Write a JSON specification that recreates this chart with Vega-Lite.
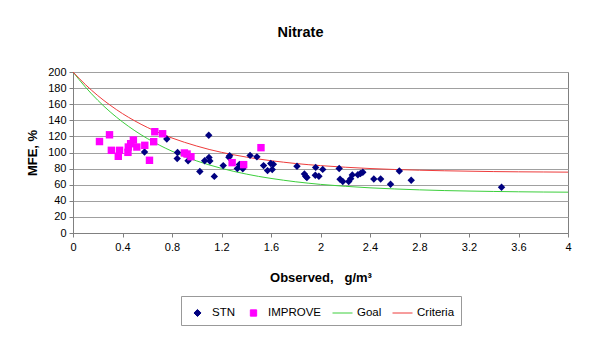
{
  "$schema": "https://vega.github.io/schema/vega-lite/v6.json",
  "width": 495,
  "height": 161,
  "autosize": {"type": "none"},
  "padding": {"left": 73, "top": 72, "right": 32, "bottom": 108},
  "background": "white",
  "title": {"text": "Nitrate", "font": "Liberation Sans", "fontSize": 14.5, "fontWeight": "bold", "color": "black", "anchor": "middle", "frame": "group", "offset": 26, "dx": -20},
  "config": {
    "view": {"stroke": "#808080", "strokeWidth": 1},
    "axis": {"labelFont": "Liberation Sans", "labelFontSize": 11, "labelColor": "black", "titleFont": "Liberation Sans", "titleFontSize": 13, "titleFontWeight": "bold", "titleColor": "black", "domainColor": "#808080", "tickColor": "#808080", "tickSize": 4, "gridColor": "#a0a0a0", "gridWidth": 1, "labelOverlap": false},
    "legend": {"labelFont": "Liberation Sans", "labelFontSize": 11.5, "labelColor": "black"}
  },
  "data": {"values": [
    {"series": "STN", "x": 0.578, "y": 100.6},
    {"series": "STN", "x": 0.758, "y": 116.7},
    {"series": "STN", "x": 0.845, "y": 100.0},
    {"series": "STN", "x": 0.842, "y": 92.4},
    {"series": "STN", "x": 0.93, "y": 89.7},
    {"series": "STN", "x": 1.025, "y": 76.5},
    {"series": "STN", "x": 1.064, "y": 89.7},
    {"series": "STN", "x": 1.097, "y": 121.5},
    {"series": "STN", "x": 1.099, "y": 93.9},
    {"series": "STN", "x": 1.106, "y": 89.5},
    {"series": "STN", "x": 1.142, "y": 70.3},
    {"series": "STN", "x": 1.214, "y": 83.7},
    {"series": "STN", "x": 1.26, "y": 94.2},
    {"series": "STN", "x": 1.266, "y": 96.0},
    {"series": "STN", "x": 1.328, "y": 80.0},
    {"series": "STN", "x": 1.345, "y": 85.0},
    {"series": "STN", "x": 1.372, "y": 79.8},
    {"series": "STN", "x": 1.431, "y": 96.4},
    {"series": "STN", "x": 1.486, "y": 94.6},
    {"series": "STN", "x": 1.54, "y": 83.7},
    {"series": "STN", "x": 1.572, "y": 77.5},
    {"series": "STN", "x": 1.598, "y": 86.4},
    {"series": "STN", "x": 1.61, "y": 78.8},
    {"series": "STN", "x": 1.619, "y": 85.3},
    {"series": "STN", "x": 1.81, "y": 82.9},
    {"series": "STN", "x": 1.87, "y": 73.4},
    {"series": "STN", "x": 1.88, "y": 70.5},
    {"series": "STN", "x": 1.89, "y": 68.9},
    {"series": "STN", "x": 1.961, "y": 81.5},
    {"series": "STN", "x": 1.958, "y": 71.8},
    {"series": "STN", "x": 1.987, "y": 70.5},
    {"series": "STN", "x": 2.018, "y": 79.0},
    {"series": "STN", "x": 2.151, "y": 80.2},
    {"series": "STN", "x": 2.158, "y": 66.8},
    {"series": "STN", "x": 2.18, "y": 63.9},
    {"series": "STN", "x": 2.228, "y": 63.9},
    {"series": "STN", "x": 2.244, "y": 67.5},
    {"series": "STN", "x": 2.257, "y": 72.2},
    {"series": "STN", "x": 2.302, "y": 72.4},
    {"series": "STN", "x": 2.323, "y": 74.0},
    {"series": "STN", "x": 2.342, "y": 75.5},
    {"series": "STN", "x": 2.431, "y": 67.0},
    {"series": "STN", "x": 2.486, "y": 67.0},
    {"series": "STN", "x": 2.566, "y": 60.6},
    {"series": "STN", "x": 2.637, "y": 77.0},
    {"series": "STN", "x": 2.733, "y": 65.6},
    {"series": "STN", "x": 3.463, "y": 56.9},
    {"series": "IMPROVE", "x": 0.214, "y": 113.6},
    {"series": "IMPROVE", "x": 0.295, "y": 122.0},
    {"series": "IMPROVE", "x": 0.31, "y": 102.7},
    {"series": "IMPROVE", "x": 0.366, "y": 95.3},
    {"series": "IMPROVE", "x": 0.376, "y": 102.7},
    {"series": "IMPROVE", "x": 0.444, "y": 100.2},
    {"series": "IMPROVE", "x": 0.447, "y": 106.8},
    {"series": "IMPROVE", "x": 0.466, "y": 110.9},
    {"series": "IMPROVE", "x": 0.488, "y": 115.5},
    {"series": "IMPROVE", "x": 0.516, "y": 106.8},
    {"series": "IMPROVE", "x": 0.58, "y": 108.9},
    {"series": "IMPROVE", "x": 0.618, "y": 90.3},
    {"series": "IMPROVE", "x": 0.652, "y": 113.4},
    {"series": "IMPROVE", "x": 0.661, "y": 125.8},
    {"series": "IMPROVE", "x": 0.724, "y": 123.3},
    {"series": "IMPROVE", "x": 0.9, "y": 99.4},
    {"series": "IMPROVE", "x": 0.922, "y": 98.1},
    {"series": "IMPROVE", "x": 0.953, "y": 94.8},
    {"series": "IMPROVE", "x": 1.286, "y": 87.4},
    {"series": "IMPROVE", "x": 1.379, "y": 84.9},
    {"series": "IMPROVE", "x": 1.519, "y": 106.0},
    {"series": "Goal", "x": 0, "y": 200},
    {"series": "Goal", "x": 0.1, "y": 181.3},
    {"series": "Goal", "x": 0.2, "y": 164.9},
    {"series": "Goal", "x": 0.3, "y": 150.5},
    {"series": "Goal", "x": 0.4, "y": 138.0},
    {"series": "Goal", "x": 0.5, "y": 127.0},
    {"series": "Goal", "x": 0.6, "y": 117.4},
    {"series": "Goal", "x": 0.7, "y": 109.0},
    {"series": "Goal", "x": 0.8, "y": 101.6},
    {"series": "Goal", "x": 0.9, "y": 95.2},
    {"series": "Goal", "x": 1.0, "y": 89.5},
    {"series": "Goal", "x": 1.1, "y": 84.6},
    {"series": "Goal", "x": 1.2, "y": 80.3},
    {"series": "Goal", "x": 1.3, "y": 76.5},
    {"series": "Goal", "x": 1.4, "y": 73.2},
    {"series": "Goal", "x": 1.5, "y": 70.3},
    {"series": "Goal", "x": 1.6, "y": 67.8},
    {"series": "Goal", "x": 1.7, "y": 65.6},
    {"series": "Goal", "x": 1.8, "y": 63.6},
    {"series": "Goal", "x": 1.9, "y": 61.9},
    {"series": "Goal", "x": 2.0, "y": 60.4},
    {"series": "Goal", "x": 2.2, "y": 58.0},
    {"series": "Goal", "x": 2.4, "y": 56.1},
    {"series": "Goal", "x": 2.6, "y": 54.7},
    {"series": "Goal", "x": 2.8, "y": 53.6},
    {"series": "Goal", "x": 3.0, "y": 52.7},
    {"series": "Goal", "x": 3.2, "y": 52.1},
    {"series": "Goal", "x": 3.4, "y": 51.6},
    {"series": "Goal", "x": 3.6, "y": 51.2},
    {"series": "Goal", "x": 3.8, "y": 50.9},
    {"series": "Goal", "x": 4.0, "y": 50.7},
    {"series": "Criteria", "x": 0, "y": 200},
    {"series": "Criteria", "x": 0.1, "y": 184.4},
    {"series": "Criteria", "x": 0.2, "y": 170.7},
    {"series": "Criteria", "x": 0.3, "y": 158.8},
    {"series": "Criteria", "x": 0.4, "y": 148.3},
    {"series": "Criteria", "x": 0.5, "y": 139.2},
    {"series": "Criteria", "x": 0.6, "y": 131.2},
    {"series": "Criteria", "x": 0.7, "y": 124.2},
    {"series": "Criteria", "x": 0.8, "y": 118.0},
    {"series": "Criteria", "x": 0.9, "y": 112.7},
    {"series": "Criteria", "x": 1.0, "y": 108.0},
    {"series": "Criteria", "x": 1.1, "y": 103.8},
    {"series": "Criteria", "x": 1.2, "y": 100.2},
    {"series": "Criteria", "x": 1.3, "y": 97.1},
    {"series": "Criteria", "x": 1.4, "y": 94.3},
    {"series": "Criteria", "x": 1.5, "y": 91.9},
    {"series": "Criteria", "x": 1.6, "y": 89.8},
    {"series": "Criteria", "x": 1.7, "y": 88.0},
    {"series": "Criteria", "x": 1.8, "y": 86.3},
    {"series": "Criteria", "x": 1.9, "y": 84.9},
    {"series": "Criteria", "x": 2.0, "y": 83.7},
    {"series": "Criteria", "x": 2.2, "y": 81.7},
    {"series": "Criteria", "x": 2.4, "y": 80.1},
    {"series": "Criteria", "x": 2.6, "y": 78.9},
    {"series": "Criteria", "x": 2.8, "y": 78.0},
    {"series": "Criteria", "x": 3.0, "y": 77.3},
    {"series": "Criteria", "x": 3.2, "y": 76.8},
    {"series": "Criteria", "x": 3.4, "y": 76.3},
    {"series": "Criteria", "x": 3.6, "y": 76.0},
    {"series": "Criteria", "x": 3.8, "y": 75.8},
    {"series": "Criteria", "x": 4.0, "y": 75.6}
  ]},
  "encoding": {
    "x": {"field": "x", "type": "quantitative", "scale": {"domain": [0, 4], "nice": false, "zero": false},
      "axis": {"title": "Observed,\u00a0\u00a0\u00a0g/m³", "values": [0, 0.4, 0.8, 1.2, 1.6, 2, 2.4, 2.8, 3.2, 3.6, 4], "grid": false, "labelPadding": 4, "titlePadding": 19, "labelFlush": false, "labelOverlap": false, "labelBound": false, "format": "~g"}},
    "y": {"field": "y", "type": "quantitative", "scale": {"domain": [0, 200], "nice": false},
      "axis": {"title": "MFE, %", "values": [0, 20, 40, 60, 80, 100, 120, 140, 160, 180, 200], "grid": true, "labelPadding": 3, "titlePadding": 8}},
    "color": {"field": "series", "type": "nominal",
      "scale": {"domain": ["STN", "IMPROVE", "Goal", "Criteria"], "range": ["#000080", "#ff00ff", "#3ccf3c", "#ee3b3b"]},
      "legend": {"title": null, "orient": "none", "direction": "horizontal", "legendX": 108, "legendY": 224, "padding": 6, "columnPadding": 8, "labelOffset": 4, "symbolSize": 400, "strokeColor": "#999999",
        "encode": {"symbols": {"update": {
          "fill": {"signal": "datum.value === 'Goal' || datum.value === 'Criteria' ? 'transparent' : scale('color', datum.value)"},
          "stroke": {"signal": "datum.value === 'Goal' || datum.value === 'Criteria' ? scale('color', datum.value) : 'transparent'"},
          "strokeWidth": {"value": 1},
          "size": {"signal": "datum.value === 'STN' ? 50 : datum.value === 'IMPROVE' ? 40 : 400"},
          "opacity": {"value": 1}
        }}}}}
  },
  "layer": [
    {"transform": [{"filter": "datum.series === 'Goal' || datum.series === 'Criteria'"}],
     "mark": {"type": "line", "strokeWidth": 1, "interpolate": "monotone"},
     "encoding": {"detail": {"field": "series"}}},
    {"transform": [{"filter": "datum.series === 'STN' || datum.series === 'IMPROVE'"}],
     "mark": {"type": "point", "filled": true, "opacity": 1},
     "encoding": {
       "shape": {"field": "series", "type": "nominal", "scale": {"domain": ["STN", "IMPROVE", "Goal", "Criteria"], "range": ["diamond", "square", "stroke", "stroke"]}, "legend": {"title": null}},
       "size": {"value": 55}
     }}
  ]
}
